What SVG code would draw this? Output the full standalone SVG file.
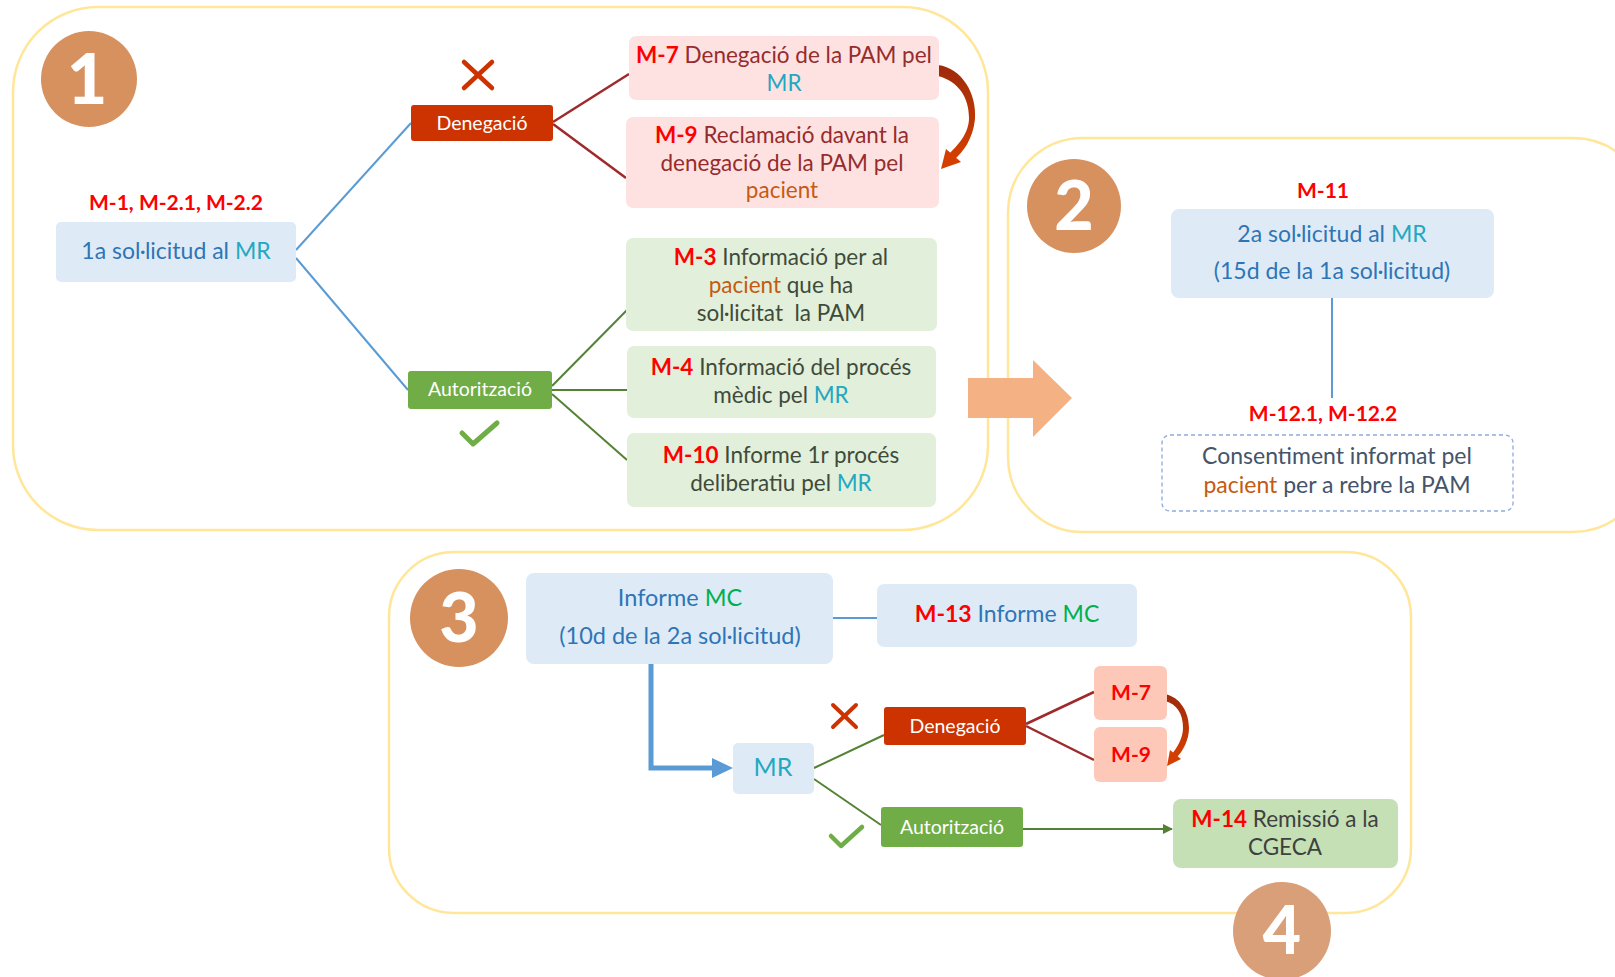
<svg xmlns="http://www.w3.org/2000/svg" width="1615" height="977" viewBox="0 0 1615 977">
<defs>
<style>
text{font-family:Lato,"Open Sans","Liberation Sans",sans-serif;text-anchor:middle}
.panel{fill:#fff;stroke:#FFE699;stroke-width:2.5}
.num{fill:#D6915F}
.numt{fill:#fff;font-weight:900}
.lbl{fill:#FF0000;font-weight:bold;font-size:21px}
.red{fill:#FF0000;font-weight:bold}
.blue{fill:#DEEBF7}
.pink{fill:#FEE2E2}
.green{fill:#E2EFDA}
.salmon{fill:#FDC8B8}
.deny{fill:#CC3300}
.auth{fill:#70AD47}
.wt{fill:#fff;font-size:19.5px}
.tb{fill:#2E75B6}
.pt{fill:#962C2C;font-size:22.5px}
.gt{fill:#3F4B3A;font-size:22.5px}
.mr{fill:#23A8C2}
.pac{fill:#C55A11}
.mc{fill:#00B050}
.lb{stroke:#5B9BD5;stroke-width:2;fill:none}
.lr{stroke:#9E2A2B;stroke-width:2.5;fill:none}
.lg{stroke:#548235;stroke-width:2;fill:none}
</style>
<linearGradient id="cg" x1="0" y1="0" x2="0" y2="1">
<stop offset="0" stop-color="#9E2A0B"/>
<stop offset="1" stop-color="#D43F00"/>
</linearGradient>
<marker id="ag" markerWidth="10" markerHeight="10" refX="9" refY="5" orient="auto" markerUnits="userSpaceOnUse">
<path d="M0,0 L10,5 L0,10 Z" fill="#548235"/>
</marker>
</defs>

<!-- panels -->
<g id="panel1"><rect class="panel" x="13" y="7" width="975" height="523" rx="85"/></g>
<g id="panel2"><rect class="panel" x="1008" y="138" width="640" height="394" rx="75"/></g>
<g id="panel3"><rect class="panel" x="389" y="552" width="1022" height="361" rx="65"/></g>

<!-- connectors -->
<g id="connectors">
<line class="lb" x1="296" y1="250" x2="411" y2="123"/>
<line class="lb" x1="296" y1="258" x2="408" y2="390"/>
<line class="lr" x1="553" y1="122" x2="629" y2="74"/>
<line class="lr" x1="553" y1="124" x2="626" y2="178"/>
<line class="lg" x1="552" y1="386" x2="627" y2="310"/>
<line class="lg" x1="552" y1="390" x2="627" y2="390" stroke-width="3.5"/>
<line class="lg" x1="552" y1="394" x2="627" y2="460"/>
<path d="M938,65 C962,68 977,94 975,119 C973,139 963,152 955,159 L949,154 C957,146 969,134 969,118 C969,97 958,81 938,76 Z" fill="url(#cg)"/>
<path d="M941,169 L946,149 L961,162 Z" fill="#D43F00"/>
<polygon points="968,378 1033,378 1033,360 1072,398 1033,437 1033,418 968,418" fill="#F4B183"/>
<line class="lb" x1="1332" y1="298" x2="1332" y2="398" stroke-width="3"/>
<line class="lb" x1="833" y1="618" x2="877" y2="618"/>
<path d="M651,664 V768 H716" fill="none" stroke="#5B9BD5" stroke-width="5"/>
<path d="M733,768 L712,758 L712,778 Z" fill="#5B9BD5"/>
<line class="lg" x1="814" y1="768" x2="884" y2="735"/>
<line class="lg" x1="814" y1="779" x2="881" y2="825"/>
<line class="lr" x1="1026" y1="724" x2="1094" y2="692"/>
<line class="lr" x1="1026" y1="726" x2="1094" y2="760"/>
<path d="M1165,694 C1180,697 1189,712 1189,728 C1189,740 1183,751 1177,757 L1172,754 C1177,748 1183,738 1183,728 C1183,714 1177,704 1165,701 Z" fill="url(#cg)"/>
<path d="M1167,766 L1170,750 L1181,759 Z" fill="#D43F00"/>
<line class="lg" x1="1023" y1="829" x2="1172" y2="829" marker-end="url(#ag)"/>
</g>

<!-- marks -->
<g id="mark-x1" stroke="#CC3300" stroke-width="4.5" stroke-linecap="round">
<line x1="464" y1="62" x2="492" y2="88"/><line x1="492" y1="62" x2="464" y2="88"/>
</g>
<g id="mark-check1" fill="none" stroke="#70AD47" stroke-width="5" stroke-linecap="round" stroke-linejoin="round">
<polyline points="462,433 473,444 497,423"/>
</g>
<g id="mark-x2" stroke="#CC3300" stroke-width="4" stroke-linecap="round">
<line x1="833" y1="705" x2="856" y2="727"/><line x1="856" y1="705" x2="833" y2="727"/>
</g>
<g id="mark-check2" fill="none" stroke="#70AD47" stroke-width="4.5" stroke-linecap="round" stroke-linejoin="round">
<polyline points="831,836 841,846 862,827"/>
</g>

<!-- numbers -->
<g id="num1"><circle class="num" cx="89" cy="79" r="48"/><text class="numt" x="87" y="104" font-size="70">1</text></g>
<g id="num2"><circle class="num" cx="1074" cy="206" r="47"/><text class="numt" x="1074" y="230" font-size="68">2</text></g>
<g id="num3"><circle class="num" cx="459" cy="618" r="49"/><text class="numt" x="459" y="642" font-size="68">3</text></g>
<g id="num4"><circle cx="1282" cy="931" r="49" fill="#D99F78"/><text class="numt" x="1282" y="954" font-size="66">4</text></g>

<!-- panel 1 nodes -->
<g id="n-1a">
<text class="lbl" x="176" y="210">M-1, M-2.1, M-2.2</text>
<rect class="blue" x="56" y="222" width="240" height="60" rx="5"/>
<text x="176" y="259" font-size="23" class="tb">1a sol·licitud al <tspan class="mr">MR</tspan></text>
</g>
<g id="n-deneg1">
<rect class="deny" x="411" y="105" width="142" height="36" rx="3"/>
<text class="wt" x="482" y="130">Denegació</text>
</g>
<g id="n-auth1">
<rect class="auth" x="408" y="371" width="144" height="38" rx="3"/>
<text class="wt" x="480" y="396">Autorització</text>
</g>
<g id="n-m7">
<rect class="pink" x="629" y="36" width="310" height="64" rx="7"/>
<text class="pt" x="784" y="63"><tspan class="red">M-7</tspan> Denegació de la PAM pel</text>
<text class="pt" x="784" y="91"><tspan class="mr">MR</tspan></text>
</g>
<g id="n-m9">
<rect class="pink" x="626" y="117" width="313" height="91" rx="7"/>
<text class="pt" x="782" y="143"><tspan class="red">M-9</tspan> Reclamació davant la</text>
<text class="pt" x="782" y="171">denegació de la PAM pel</text>
<text class="pt" x="782" y="198"><tspan class="pac">pacient</tspan></text>
</g>
<g id="n-m3">
<rect class="green" x="626" y="238" width="311" height="93" rx="7"/>
<text class="gt" x="781" y="265"><tspan class="red">M-3</tspan> Informació per al</text>
<text class="gt" x="781" y="293"><tspan class="pac">pacient</tspan> que ha</text>
<text class="gt" x="781" y="321" style="white-space:pre">sol·licitat  la PAM</text>
</g>
<g id="n-m4">
<rect class="green" x="627" y="346" width="309" height="72" rx="7"/>
<text class="gt" x="781" y="375"><tspan class="red">M-4</tspan> Informació del procés</text>
<text class="gt" x="781" y="403">mèdic pel <tspan class="mr">MR</tspan></text>
</g>
<g id="n-m10">
<rect class="green" x="627" y="433" width="309" height="74" rx="7"/>
<text class="gt" x="781" y="463"><tspan class="red">M-10</tspan> Informe 1r procés</text>
<text class="gt" x="781" y="491">deliberatiu pel <tspan class="mr">MR</tspan></text>
</g>

<!-- panel 2 nodes -->
<g id="n-2a">
<text class="lbl" x="1323" y="198">M-11</text>
<rect class="blue" x="1171" y="209" width="323" height="89" rx="8"/>
<text class="tb" x="1332" y="242" font-size="23">2a sol·licitud al <tspan class="mr">MR</tspan></text>
<text class="tb" x="1332" y="279" font-size="23">(15d de la 1a sol·licitud)</text>
</g>
<g id="n-consent">
<text class="lbl" x="1323" y="421">M-12.1, M-12.2</text>
<rect x="1162" y="435" width="351" height="76" rx="8" fill="#fff" stroke="#8FAADC" stroke-width="1.3" stroke-dasharray="4,3"/>
<text x="1337" y="464" font-size="23" fill="#44546A">Consentiment informat pel</text>
<text x="1337" y="493" font-size="23" fill="#44546A"><tspan class="pac">pacient</tspan> per a rebre la PAM</text>
</g>

<!-- panel 3 nodes -->
<g id="n-informe">
<rect class="blue" x="526" y="573" width="307" height="91" rx="8"/>
<text class="tb" x="680" y="606" font-size="23.5">Informe <tspan class="mc">MC</tspan></text>
<text class="tb" x="680" y="644" font-size="23.5">(10d de la 2a sol·licitud)</text>
</g>
<g id="n-m13">
<rect class="blue" x="877" y="584" width="260" height="63" rx="7"/>
<text class="tb" x="1007" y="622" font-size="23"><tspan class="red">M-13</tspan> Informe <tspan class="mc">MC</tspan></text>
</g>
<g id="n-mr">
<rect class="blue" x="733" y="743" width="81" height="51" rx="5"/>
<text class="mr" x="773" y="776" font-size="25">MR</text>
</g>
<g id="n-deneg2">
<rect class="deny" x="884" y="707" width="142" height="38" rx="3"/>
<text class="wt" x="955" y="733">Denegació</text>
</g>
<g id="n-auth2">
<rect class="auth" x="881" y="807" width="142" height="40" rx="3"/>
<text class="wt" x="952" y="834">Autorització</text>
</g>
<g id="n-m7b">
<rect class="salmon" x="1094" y="666" width="73" height="54" rx="6"/>
<text class="red" x="1131" y="700" font-size="21">M-7</text>
</g>
<g id="n-m9b">
<rect class="salmon" x="1094" y="727" width="73" height="55" rx="6"/>
<text class="red" x="1131" y="762" font-size="21">M-9</text>
</g>
<g id="n-m14">
<rect x="1173" y="799" width="225" height="69" rx="8" fill="#C5E0B4"/>
<text x="1285" y="827" font-size="22.5" fill="#404040"><tspan class="red">M-14</tspan> Remissió a la</text>
<text x="1285" y="855" font-size="22.5" fill="#404040">CGECA</text>
</g>
</svg>
